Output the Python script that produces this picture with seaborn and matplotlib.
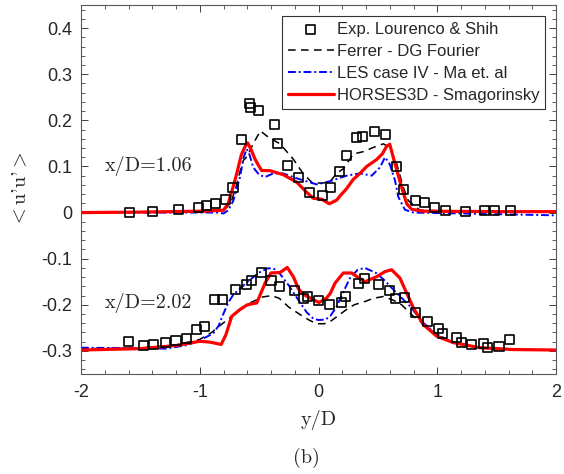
import matplotlib
matplotlib.use("Agg")
import matplotlib.pyplot as plt
import seaborn as sns
import numpy as np
import pandas as pd
from matplotlib.ticker import MultipleLocator

# ---------------- data (values as plotted, lower profile offset by -0.3) ----------------
# x/D = 1.06 : experiment
exp1_y = [-1.59, -1.40, -1.18, -1.01, -0.94, -0.87, -0.78, -0.72, -0.65, -0.58, -0.575,
          -0.505, -0.37, -0.345, -0.265, -0.17, -0.077, 0.032, 0.103, 0.181, 0.233, 0.32,
          0.372, 0.475, 0.563, 0.653, 0.712, 0.813, 0.891, 0.973, 1.07, 1.24, 1.394, 1.48, 1.613]
exp1_v = [0.001, 0.003, 0.006, 0.012, 0.015, 0.019, 0.029, 0.055, 0.159, 0.236, 0.228,
          0.222, 0.190, 0.149, 0.103, 0.075, 0.044, 0.037, 0.055, 0.090, 0.123, 0.163,
          0.164, 0.175, 0.169, 0.100, 0.050, 0.027, 0.022, 0.012, 0.005, 0.003, 0.005, 0.005, 0.005]
# x/D = 1.06 : Ferrer - DG Fourier
fer1_y = [-2.0, -1.0, -0.8, -0.74, -0.70, -0.66, -0.633, -0.60, -0.55, -0.49, -0.42, -0.324,
          -0.21, -0.128, -0.05, 0.04, 0.10, 0.153, 0.209, 0.293, 0.377, 0.46, 0.546, 0.60,
          0.658, 0.714, 0.756, 0.855, 1.2, 2.0]
fer1_v = [0.0, 0.002, 0.004, 0.020, 0.050, 0.090, 0.113, 0.122, 0.149, 0.177, 0.163, 0.149,
          0.115, 0.084, 0.064, 0.064, 0.068, 0.085, 0.095, 0.127, 0.132, 0.141, 0.149, 0.141,
          0.106, 0.055, 0.026, 0.005, 0.003, 0.002]
# x/D = 1.06 : LES case IV - Ma et al
les1_y = [-2.0, -1.0, -0.85, -0.80, -0.76, -0.717, -0.68, -0.661, -0.63, -0.605, -0.58, -0.55,
          -0.50, -0.45, -0.38, -0.30, -0.18, -0.015, 0.097, 0.237, 0.35, 0.448, 0.518, 0.56,
          0.60, 0.644, 0.672, 0.728, 0.80, 1.2, 1.6, 2.0]
les1_v = [0.0, 0.0, 0.0, -0.002, 0.005, 0.026, 0.060, 0.077, 0.120, 0.138, 0.125, 0.098,
          0.082, 0.077, 0.085, 0.085, 0.074, 0.061, 0.068, 0.080, 0.085, 0.080, 0.098, 0.120,
          0.105, 0.070, 0.034, 0.006, 0.0, -0.002, -0.004, -0.006]
# x/D = 1.06 : HORSES3D - Smagorinsky
hor1_y = [-2.0, -1.5, -1.0, -0.80, -0.76, -0.72, -0.689, -0.65, -0.615, -0.596, -0.565, -0.535,
          -0.50, -0.478, -0.41, -0.296, -0.184, -0.10, -0.044, 0.027, 0.091, 0.153, 0.181, 0.237,
          0.293, 0.35, 0.406, 0.49, 0.54, 0.574, 0.60, 0.644, 0.70, 0.743, 0.785, 0.88, 1.5, 2.0]
hor1_v = [0.0, 0.001, 0.003, 0.005, 0.020, 0.055, 0.084, 0.125, 0.145, 0.151, 0.135, 0.116,
          0.100, 0.091, 0.091, 0.082, 0.066, 0.044, 0.031, 0.029, 0.019, 0.027, 0.036, 0.052,
          0.072, 0.085, 0.100, 0.115, 0.128, 0.144, 0.148, 0.106, 0.055, 0.019, 0.007, 0.003,
          0.002, 0.002]

# x/D = 2.02 : experiment
exp2_y = [-1.60, -1.475, -1.39, -1.287, -1.20, -1.11, -1.026, -0.964, -0.876, -0.807, -0.695,
          -0.608, -0.568, -0.476, -0.40, -0.327, -0.198, -0.125, -0.09, 0.0, 0.09, 0.197, 0.229,
          0.333, 0.389, 0.509, 0.596, 0.65, 0.728, 0.82, 0.916, 1.009, 1.046, 1.158, 1.206,
          1.29, 1.388, 1.425, 1.52, 1.607]
exp2_v = [-0.279, -0.288, -0.286, -0.282, -0.277, -0.272, -0.254, -0.246, -0.189, -0.189, -0.167,
          -0.156, -0.147, -0.131, -0.148, -0.161, -0.169, -0.186, -0.181, -0.191, -0.200, -0.196,
          -0.182, -0.154, -0.142, -0.157, -0.169, -0.187, -0.184, -0.216, -0.236, -0.252, -0.262,
          -0.270, -0.282, -0.286, -0.284, -0.293, -0.290, -0.275]
# x/D = 2.02 : Ferrer - DG Fourier
fer2_y = [-2.0, -1.5, -1.2, -1.0, -0.9, -0.83, -0.745, -0.66, -0.577, -0.47, -0.394, -0.33,
          -0.25, -0.15, -0.08, -0.015, 0.05, 0.10, 0.153, 0.237, 0.30, 0.40, 0.46, 0.546, 0.63,
          0.70, 0.80, 0.883, 0.995, 1.135, 1.36, 1.7, 2.0]
fer2_v = [-0.295, -0.294, -0.287, -0.275, -0.260, -0.245, -0.228, -0.210, -0.196, -0.183, -0.180,
          -0.186, -0.205, -0.222, -0.233, -0.241, -0.241, -0.236, -0.226, -0.210, -0.200, -0.192,
          -0.186, -0.182, -0.190, -0.200, -0.225, -0.241, -0.265, -0.282, -0.293, -0.297, -0.298]
# x/D = 2.02 : LES case IV - Ma et al
les2_y = [-2.0, -1.6, -1.28, -1.1, -1.0, -0.886, -0.84, -0.815, -0.76, -0.717, -0.605, -0.507,
          -0.43, -0.38, -0.324, -0.25, -0.184, -0.10, -0.044, 0.0, 0.06, 0.10, 0.15, 0.20, 0.265,
          0.33, 0.39, 0.46, 0.49, 0.56, 0.63, 0.70, 0.77, 0.883, 0.995, 1.135, 1.36, 1.7, 2.0]
les2_v = [-0.293, -0.294, -0.295, -0.287, -0.277, -0.262, -0.245, -0.228, -0.195, -0.178, -0.152,
          -0.131, -0.121, -0.121, -0.133, -0.158, -0.184, -0.216, -0.230, -0.233, -0.232, -0.224,
          -0.205, -0.177, -0.142, -0.124, -0.120, -0.128, -0.132, -0.148, -0.167, -0.185, -0.203,
          -0.239, -0.264, -0.282, -0.293, -0.297, -0.298]
# x/D = 2.02 : HORSES3D - Smagorinsky
hor2_y = [-2.0, -1.5, -1.19, -1.0, -0.91, -0.82, -0.78, -0.731, -0.66, -0.60, -0.52, -0.45,
          -0.40, -0.324, -0.263, -0.21, -0.17, -0.128, -0.044, 0.005, 0.069, 0.10, 0.139, 0.209,
          0.28, 0.33, 0.392, 0.49, 0.56, 0.616, 0.686, 0.743, 0.80, 0.883, 0.995, 1.135, 1.36,
          1.64, 2.0]
hor2_v = [-0.298, -0.295, -0.288, -0.279, -0.281, -0.286, -0.265, -0.225, -0.210, -0.200, -0.196,
          -0.153, -0.131, -0.130, -0.119, -0.140, -0.165, -0.177, -0.189, -0.195, -0.185, -0.175,
          -0.153, -0.131, -0.131, -0.140, -0.150, -0.139, -0.128, -0.124, -0.142, -0.175, -0.207,
          -0.243, -0.268, -0.282, -0.293, -0.297, -0.298]

series_labels = ["Exp. Lourenco & Shih", "Ferrer - DG Fourier",
                 "LES case IV - Ma et. al", "HORSES3D - Smagorinsky"]
station_labels = ["x/D=1.06", "x/D=2.02"]
station_pos = [(-1.80, 0.10), (-1.80, -0.196)]
xticks = [-2, -1, 0, 1, 2]
yticks = [-0.3, -0.2, -0.1, 0, 0.1, 0.2, 0.3, 0.4]
ytick_labels = ["-0.3", "-0.2", "-0.1", "0", "0.1", "0.2", "0.3", "0.4"]

# ---------------- style ----------------
sns.set_style("ticks")
plt.rcParams['font.family'] = ['Liberation Sans', 'DejaVu Sans']
plt.rcParams['mathtext.fontset'] = 'cm'
plt.rcParams['axes.unicode_minus'] = False

fig = plt.figure(figsize=(5.64, 4.74), dpi=100)
ax = fig.add_axes([81/564, 1-374/474, 475/564, 369/474])

def df(y, v):
    return pd.DataFrame({"y": y, "v": v})

# lines
for (yy, vv), lab in [((fer1_y, fer1_v), series_labels[1]), ((fer2_y, fer2_v), None)]:
    sns.lineplot(data=df(yy, vv), x="y", y="v", ax=ax, color="black", lw=1.1,
                 linestyle=(0, (5, 3.5)), sort=False, estimator=None, label=lab, legend=False)
for (yy, vv), lab in [((les1_y, les1_v), series_labels[2]), ((les2_y, les2_v), None)]:
    sns.lineplot(data=df(yy, vv), x="y", y="v", ax=ax, color="#0000ff", lw=1.4,
                 linestyle=(0, (4, 1.5, 1, 1.5)), sort=False, estimator=None, label=lab, legend=False)
for (yy, vv), lab in [((hor1_y, hor1_v), series_labels[3]), ((hor2_y, hor2_v), None)]:
    sns.lineplot(data=df(yy, vv), x="y", y="v", ax=ax, color="#ff0000", lw=2.3,
                 sort=False, estimator=None, label=lab, legend=False)
# experiment markers
for (yy, vv), lab in [((exp1_y, exp1_v), series_labels[0]), ((exp2_y, exp2_v), None)]:
    sns.scatterplot(data=df(yy, vv), x="y", y="v", ax=ax, marker="s", s=42,
                    facecolor="none", edgecolor="black", linewidth=1.2, label=lab,
                    legend=False, zorder=5)

ax.set_xlim(-2, 2)
ax.set_ylim(-0.35, 0.45)
ax.set_xticks(xticks)
ax.set_xticklabels([str(t) for t in xticks])
ax.set_yticks(yticks)
ax.set_yticklabels(ytick_labels)
ax.xaxis.set_minor_locator(MultipleLocator(0.2))
ax.yaxis.set_minor_locator(MultipleLocator(0.02))
ax.tick_params(which="both", direction="in", top=True, right=True, colors="0.25",
               labelcolor="#262626", labelsize=13)
ax.tick_params(which="major", length=5, width=0.7)
ax.tick_params(which="minor", length=3, width=0.6)
ax.tick_params(axis="x", pad=7.5)
ax.tick_params(axis="y", pad=6.5)
for sp in ax.spines.values():
    sp.set_visible(True)
    sp.set_color("0.35")
    sp.set_linewidth(0.8)

cmfont = dict(family="cmr10", size=14.5, color="#262626")
for lab, (px, py) in zip(station_labels, station_pos):
    ax.text(px, py, lab, ha="left", va="center", **cmfont)

ax.set_xlabel("y/D", **cmfont)
ax.xaxis.set_label_coords(0.5, -0.097)
ax.set_ylabel(r"$<$u'u'$>$", **cmfont)
ax.yaxis.set_label_coords(-0.107, 0.5)
fig.text(306.5/564, 1-458/474, "(b)", ha="center", va="center", **cmfont)

# legend (order: experiment first)
h, l = ax.get_legend_handles_labels()
order = [l.index(s) for s in series_labels]
leg = ax.legend([h[i] for i in order], [l[i] for i in order], loc="upper right",
                fontsize=12, frameon=True, fancybox=False, framealpha=1,
                edgecolor="0.2", handlelength=2.8, handletextpad=0.15,
                borderpad=0.35, labelspacing=0.42, borderaxespad=0.65)
leg.get_frame().set_linewidth(0.8)
for t in leg.get_texts():
    t.set_color("#262626")

fig.savefig("out.png", dpi=100)
